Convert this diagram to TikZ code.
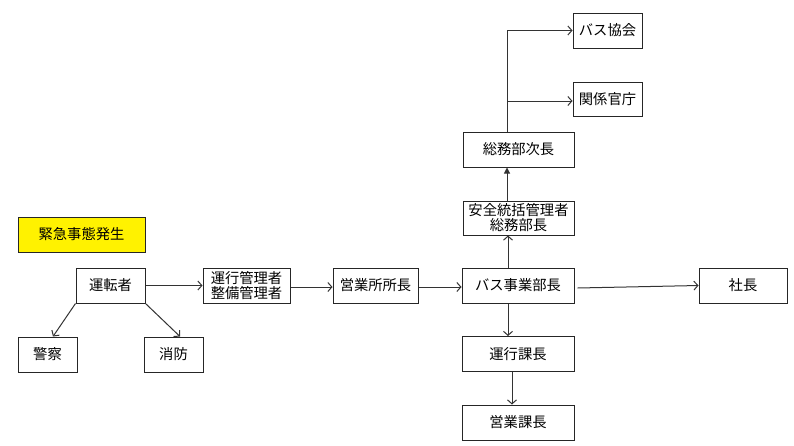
\documentclass[tikz,border=0pt]{standalone}
\usepackage{fontspec}
\setmainfont{Noto Sans CJK JP}
\usetikzlibrary{arrows.meta}
\tikzset{
  box/.style={draw=black!85, line width=1pt, fill=white, inner sep=0pt,
    minimum height=35pt, align=center, font=\fontsize{14.3}{15}\selectfont},
  conn/.style={draw=black!80, line width=1pt, -{Straight Barb[length=4pt,width=9pt]}},
  fconn/.style={draw=black!80, line width=1pt, -{Triangle[length=6pt,width=6pt]}},
}
\begin{document}
\begin{tikzpicture}[x=1pt,y=-1pt]
\fill[white] (0,0) rectangle (794,445);
\useasboundingbox (0,0) rectangle (794,445);
% nodes
\node[box, fill=yellow, minimum width=127pt] (kinkyu) at (81.5,234.5) {緊急事態発生};
\node[box, minimum width=69pt] (untensha) at (110.5,285.5) {運転者};
\node[box, minimum width=59pt] (keisatsu) at (47.5,354.5) {警察};
\node[box, minimum width=59pt] (shobo) at (173.5,354.5) {消防};
\node[box, minimum width=87pt] (kanri) at (246.5,285.5) {運行管理者\\整備管理者};
\node[box, minimum width=85pt] (eigyosho) at (375.5,285.5) {営業所所長};
\node[box, minimum width=112pt] (bus) at (518,285.5) {バス事業部長};
\node[box, minimum width=88pt] (shacho) at (743,285.5) {社長};
\node[box, minimum width=112pt] (unko) at (518,354) {運行課長};
\node[box, minimum width=112pt] (eigyo) at (518,422.5) {営業課長};
\node[box, minimum width=111pt, minimum height=34pt] (anzen) at (518.5,218) {安全統括管理者\\総務部長};
\node[box, minimum width=111pt] (jicho) at (518.5,149.5) {総務部次長};
\node[box, minimum width=69pt] (kyokai) at (607.5,30.5) {バス協会};
\node[box, minimum width=69pt, minimum height=34pt] (kancho) at (607.5,99) {関係官庁};
% connectors
\draw[conn] (untensha.east) -- (kanri.west);
\draw[conn] ([yshift=-1.5pt]kanri.east) -- ([yshift=-1.5pt]eigyosho.west);
\draw[conn] ([yshift=-1.5pt]eigyosho.east) -- ([yshift=-1.5pt]bus.west);
\draw[conn] ([xshift=3pt,yshift=-2.5pt]bus.east) -- (shacho.west);
\draw[conn] (untensha.south west) -- ([xshift=5.5pt]keisatsu.north);
\draw[conn] (untensha.south east) -- ([xshift=6.5pt]shobo.north);
\draw[conn] ([xshift=-10pt]bus.south) -- ([xshift=-10pt]unko.north);
\draw[conn] ([xshift=-6pt]unko.south) -- ([xshift=-6pt]eigyo.north);
\draw[conn] ([xshift=-10pt]bus.north) -- ([xshift=-10.5pt]anzen.south);
\draw[fconn] ([xshift=-11.5pt]anzen.north) -- ([xshift=-11.5pt]jicho.south);
\coordinate (top) at (507,30.5);
\coordinate (mid) at (507,101);
\draw[draw=black!80, line width=1pt] ([xshift=-11.5pt]jicho.north) -- (top);
\draw[conn] (top) -- (kyokai.west);
\draw[conn] (mid) -- (mid -| kancho.west);
\end{tikzpicture}
\end{document}
